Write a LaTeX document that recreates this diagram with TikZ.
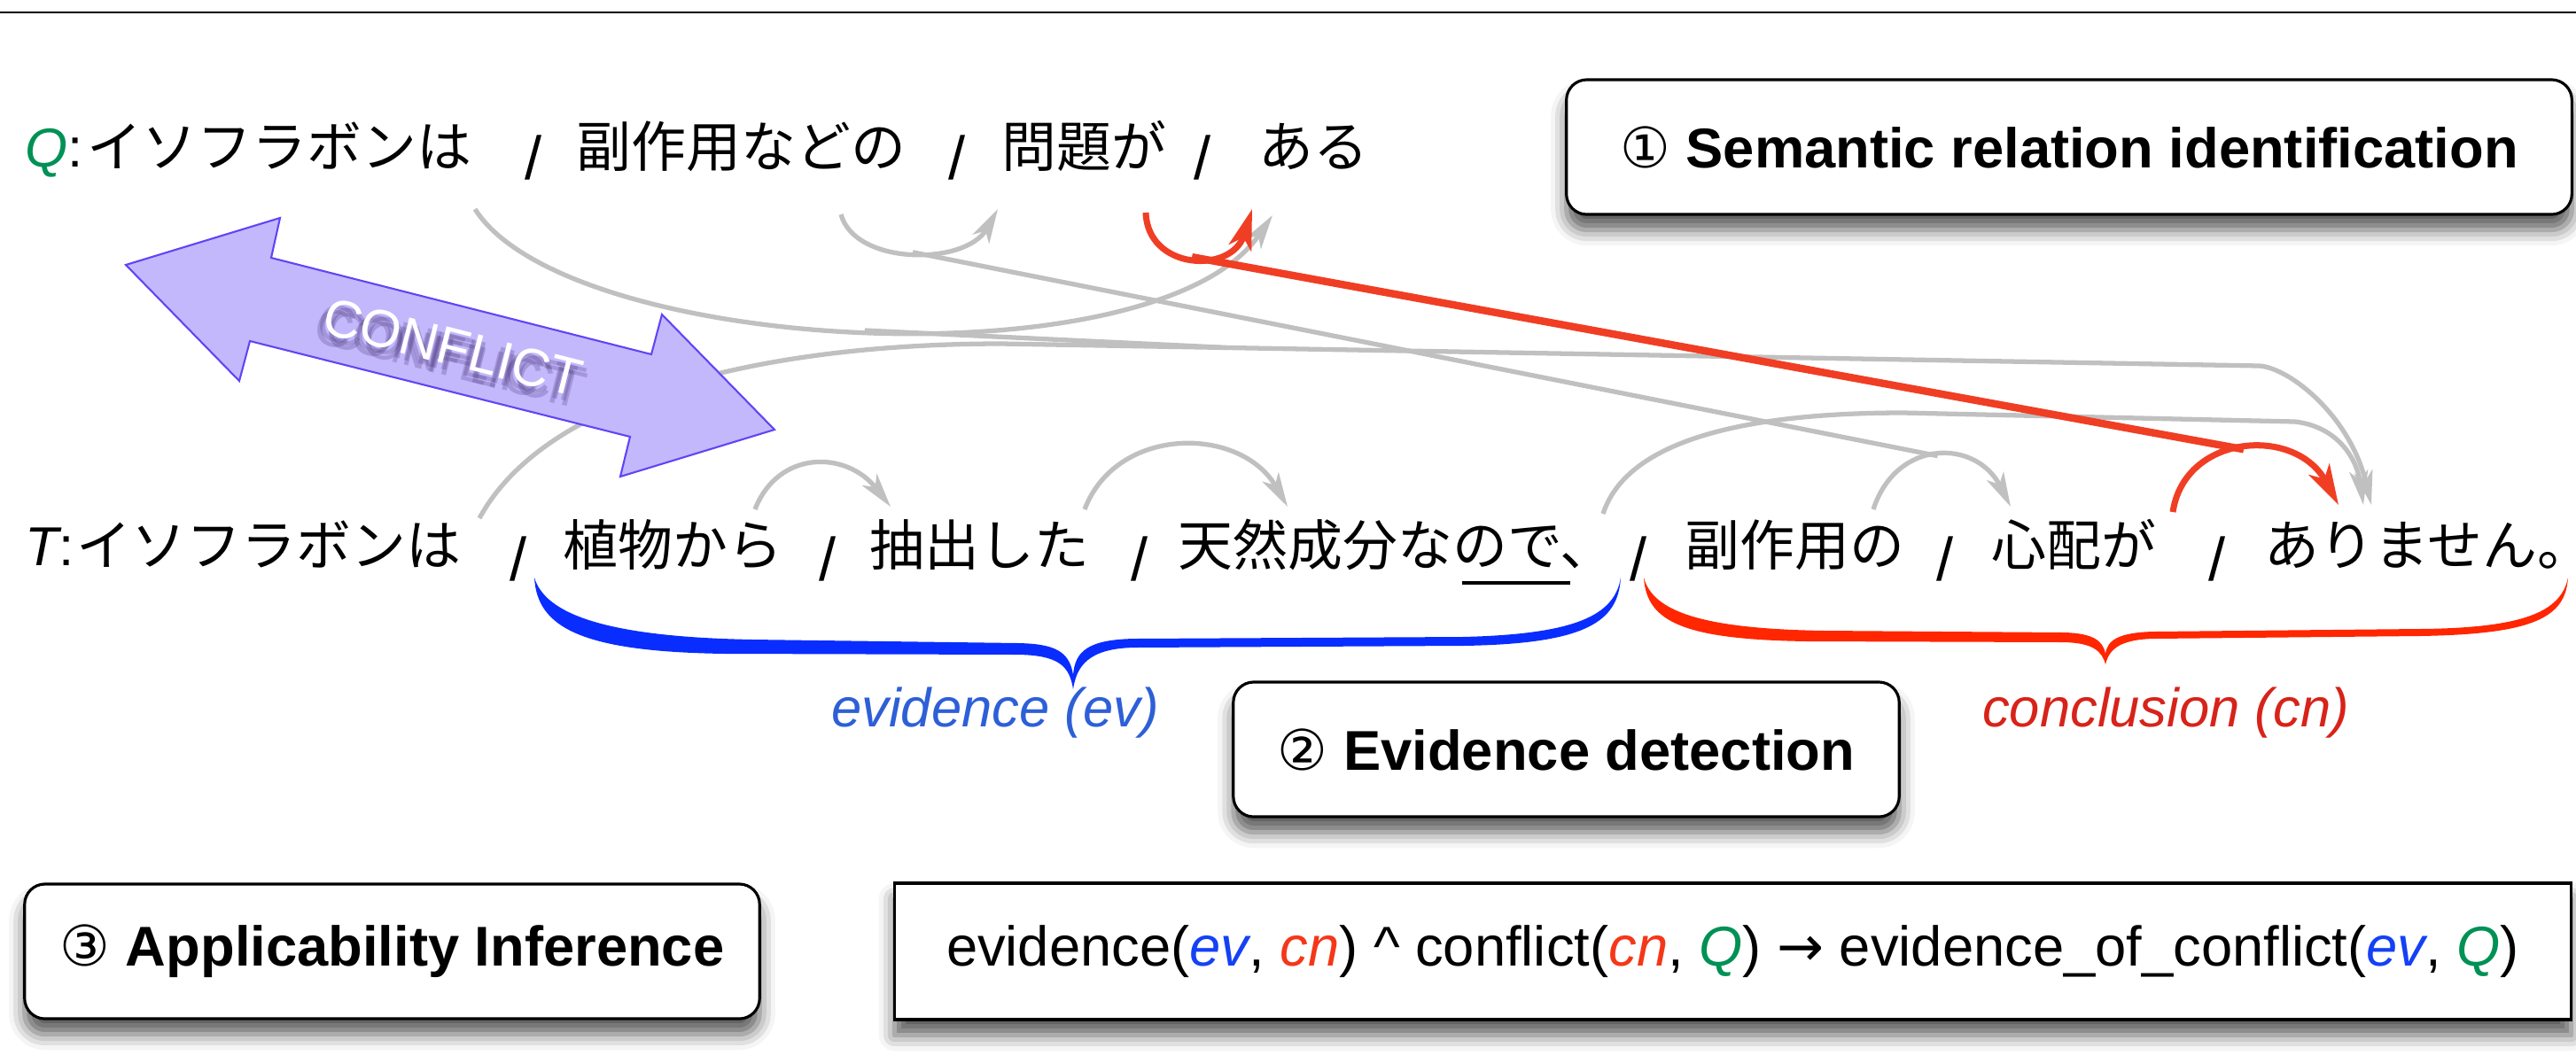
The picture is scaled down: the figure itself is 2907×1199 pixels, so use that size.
\documentclass[tikz,border=0pt]{standalone}
\usepackage{fontspec}
\usepackage{xcolor}
\usepackage{tikz}
\usetikzlibrary{arrows.meta, shadows.blur}

\setmainfont{Liberation Sans}
\newfontfamily\jpfont{Noto Sans CJK JP}
\newfontfamily\symfont{DejaVu Sans}

\definecolor{arcgray}{RGB}{192,192,192}
\definecolor{arcred}{RGB}{240,62,36}
\definecolor{braceblue}{RGB}{10,45,255}
\definecolor{bracered}{RGB}{255,38,0}
\definecolor{evblue}{RGB}{45,95,215}
\definecolor{cnred}{RGB}{215,35,25}
\definecolor{fblue}{RGB}{20,65,245}
\definecolor{fred}{RGB}{245,55,25}
\definecolor{qgreen}{RGB}{0,145,85}
\definecolor{cfill}{RGB}{196,184,252}
\definecolor{cline}{RGB}{95,70,245}
\definecolor{cglow}{RGB}{70,50,120}

\begin{document}
\begin{tikzpicture}[x=0.01cm, y=-0.01cm,
    word/.style={inner sep=0pt, anchor=base west, font=\jpfont\fontsize{17.6pt}{20pt}\selectfont},
    tag/.style={inner sep=0pt, anchor=base west, font=\fontsize{17.6pt}{20pt}\selectfont\itshape},
    slash/.style={inner sep=0pt, anchor=base, font=\fontsize{19.5pt}{20pt}\selectfont},
    dep/.style={arcgray, line width=1.5pt, -{Stealth[length=11pt, width=6pt, inset=3pt]}},
    depred/.style={arcred, line width=2pt, -{Stealth[length=13pt, width=7.5pt, inset=3.5pt]}},
    align/.style={arcgray, line width=1.5pt},
    alignred/.style={arcred, line width=2.4pt},
    boxshadow/.style={blur shadow={shadow xshift=0pt, shadow yshift=-5pt, shadow blur radius=5pt, shadow opacity=65}},
    stepbox/.style={draw, line width=0.9pt, fill=white, rounded corners=0.23cm, minimum height=1.52cm, boxshadow, font=\fontsize{18pt}{20pt}\selectfont\bfseries},
    rulebox/.style={draw, line width=0.9pt, fill=white, minimum height=1.54cm, boxshadow, font=\fontsize{18pt}{20pt}\selectfont},
    spanlab/.style={inner sep=0pt, anchor=base, font=\fontsize{17.5pt}{20pt}\selectfont\itshape},
    cftext/.style={rotate=-14.3, inner sep=0pt, font=\fontsize{17pt}{20pt}\selectfont}
  ]
  \useasboundingbox (0,0) rectangle (2907,1199);

  % Rule at the top
  \draw[line width=0.8pt] (0,14) -- (2907,14);

  % Q sentence
  \node[tag] (qtag) at (28,188) {\textcolor{qgreen}{Q}\upshape :};
  \node[word] (q1) at (98,188) {イソフラボンは};
  \node[word] (q2) at (650,188) {副作用などの};
  \node[word] (q3) at (1130,188) {問題が};
  \node[word] (q4) at (1420,188) {ある};
  \node[slash] (qs1) at (602,202) {/};
  \node[slash] (qs2) at (1080,202) {/};
  \node[slash] (qs3) at (1357,202) {/};

  % T sentence
  \node[tag] (ttag) at (28,638) {T\upshape :};
  \node[word] (t1) at (86,638) {イソフラボンは};
  \node[word] (t2) at (635,638) {植物から};
  \node[word] (t3) at (981,638) {抽出した};
  \node[word] (t4) at (1329,638) {天然成分なので、};
  \node[word] (t5) at (1901,638) {副作用の};
  \node[word] (t6) at (2247,638) {心配が};
  \node[word] (t7) at (2555,638) {ありません\rlap{。}};
  \node[slash] (ts1) at (585,655) {/};
  \node[slash] (ts2) at (934,655) {/};
  \node[slash] (ts3) at (1286,655) {/};
  \node[slash] (ts4) at (1849,655) {/};
  \node[slash] (ts5) at (2195,655) {/};
  \node[slash] (ts6) at (2502,655) {/};
  \draw[line width=1.4pt] (1650,658) -- (1772,658);

  % Arc ends
  \coordinate (qa1s) at (536,236);
  \coordinate (qa1e) at (1436,243);
  \coordinate (qa2s) at (949,242);
  \coordinate (qa2e) at (1126,236);
  \coordinate (qa3s) at (1293,240);
  \coordinate (qa3e) at (1413,236);
  \coordinate (tb1s) at (541,585);
  \coordinate (tb1e) at (2676,570);
  \coordinate (tb2s) at (852,575);
  \coordinate (tb2e) at (1005,572);
  \coordinate (tb3s) at (1224,575);
  \coordinate (tb3e) at (1453,572);
  \coordinate (tb4s) at (1809,580);
  \coordinate (tb4e) at (2667,570);
  \coordinate (tb5s) at (2114,575);
  \coordinate (tb5e) at (2269,572);
  \coordinate (tb6s) at (2452,578);
  \coordinate (tb6e) at (2639,570);

  % Dependencies in Q
  \draw[dep] (qa1s) .. controls (640,400) and (1305,435) .. (qa1e) coordinate[pos=0.5] (qa1m);
  \draw[dep] (qa2s) .. controls (965,300) and (1090,300) .. (qa2e) coordinate[pos=0.5] (qa2m);

  % Dependencies in T
  \draw[dep] (tb1s) .. controls (620,440) and (880,388) .. (1130,388)
    -- (2550,413) coordinate[pos=0.18] (tb1m)
    .. controls (2585,416) and (2652,470) .. (tb1e);
  \draw[dep] (tb2s) .. controls (878,508) and (955,508) .. (tb2e);
  \draw[dep] (tb3s) .. controls (1260,480) and (1400,480) .. (tb3e);
  \draw[dep] (tb4s) .. controls (1835,500) and (1960,466) .. (2148,466)
    -- (2590,476) .. controls (2640,482) and (2660,520) .. (tb4e);
  \draw[dep] (tb5s) .. controls (2140,495) and (2230,495) .. (tb5e) coordinate[pos=0.5] (tb5m);

  % Links between Q and T
  \draw[align] (qa1m) -- (tb1m);
  \draw[align] (qa2m) -- (tb5m);

  % Red relation
  \draw[depred] (qa3s) .. controls (1295,305) and (1390,310) .. (qa3e) coordinate[pos=0.5] (qa3m);
  \draw[depred] (tb6s) .. controls (2465,490) and (2590,480) .. (tb6e) coordinate[pos=0.5] (tb6m);
  \draw[alignred] (qa3m) -- (tb6m);

  % CONFLICT arrow
  \filldraw[fill=cfill, draw=cline, line width=0.6pt] (142,299) -- (316,246) -- (306,291) -- (735,400)
    -- (747,355) -- (874,485) -- (700,538) -- (711,493) -- (282,385) -- (270,430) -- cycle;
  \foreach \dx/\dy in {1.5/-2, -1.5/-2, 2/-3.5, -2/-3.5}
    \node[cftext, text=cglow, opacity=0.25, xshift=\dx pt, yshift=\dy pt] at (511,392) {CONFLICT};
  \node[cftext, text=white] (cflict) at (511,392) {CONFLICT};

  % Braces
  \fill[braceblue] (603,652)
    .. controls (606,708) and (655,736) .. (820,738) -- (1150,739)
    .. controls (1195,740) and (1207,752) .. (1211,778)
    .. controls (1215,752) and (1228,732) .. (1280,731) -- (1650,729)
    .. controls (1790,727) and (1826,702) .. (1829,652)
    .. controls (1822,694) and (1780,716) .. (1650,719) -- (1280,721)
    .. controls (1228,722) and (1213,735) .. (1211,762)
    .. controls (1207,735) and (1190,727) .. (1150,726) -- (850,722)
    .. controls (680,719) and (615,692) .. (603,652) -- cycle;
  \fill[bracered] (1855,652)
    .. controls (1858,702) and (1900,722) .. (2040,724) -- (2330,725)
    .. controls (2362,726) and (2372,735) .. (2376,750)
    .. controls (2380,733) and (2392,722) .. (2430,721) -- (2730,718)
    .. controls (2860,716) and (2895,697) .. (2898,652)
    .. controls (2890,690) and (2850,709) .. (2730,710) -- (2430,713)
    .. controls (2392,714) and (2378,722) .. (2376,738)
    .. controls (2373,722) and (2360,715) .. (2330,714) -- (2060,712)
    .. controls (1920,710) and (1865,690) .. (1855,652) -- cycle;
  \node[spanlab, text=evblue] (evlab) at (1123,820) {evidence (ev)};
  \node[spanlab, text=cnred] (cnlab) at (2444,820) {conclusion (cn)};

  % Steps
  \node[stepbox, minimum width=11.34cm] (sem) at (2335,166) {{\symfont\mdseries ①} Semantic relation identification};
  \node[stepbox, minimum width=7.51cm] (evd) at (1767.5,846) {{\symfont\mdseries ②} Evidence detection};
  \node[stepbox, minimum width=8.29cm] (app) at (442.5,1074) {{\symfont\mdseries ③} Applicability Inference};
  \node[rulebox, minimum width=18.91cm] (rule) at (1955.5,1074) {evidence(\textcolor{fblue}{\itshape ev}, \textcolor{fred}{\itshape cn}) \textasciicircum{} conflict(\textcolor{fred}{\itshape cn}, \textcolor{qgreen}{\itshape Q}) {\symfont →} evidence\_of\_conflict(\textcolor{fblue}{\itshape ev}, \textcolor{qgreen}{\itshape Q})};
\end{tikzpicture}
\end{document}
